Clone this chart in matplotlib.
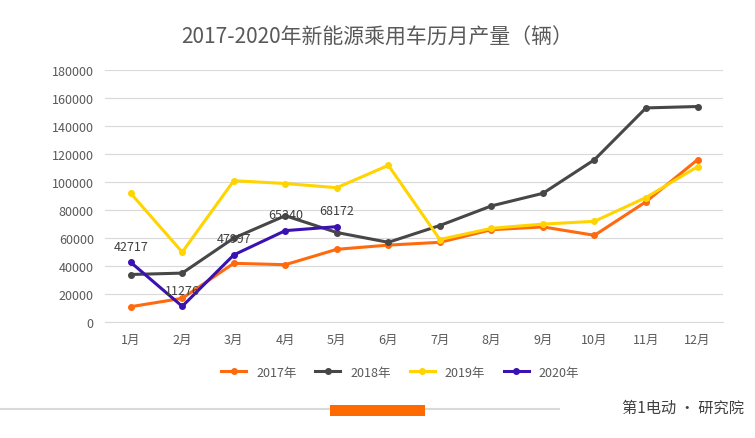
import matplotlib
matplotlib.use("Agg")
import matplotlib.pyplot as plt
from matplotlib.patches import Rectangle
from matplotlib.lines import Line2D

plt.rcParams["font.family"] = ["Noto Sans CJK SC", "DejaVu Sans"]

months = ["1月", "2月", "3月", "4月", "5月", "6月", "7月", "8月", "9月", "10月", "11月", "12月"]
y2017 = [11000, 17000, 42000, 41000, 52000, 55000, 57000, 66000, 68000, 62000, 86000, 116000]
y2018 = [34000, 35000, 60000, 76000, 64000, 57000, 69000, 83000, 92000, 116000, 153000, 154000]
y2019 = [92000, 50000, 101000, 99000, 96000, 112000, 59000, 67000, 70000, 72000, 89000, 111000]
y2020 = [42717, 11276, 47997, 65340, 68172]
yticks = list(range(0, 180001, 20000))

fig = plt.figure(figsize=(7.55, 4.39), dpi=100)
ax = fig.add_axes([0.139, 0.264, 0.819, 0.574])
x = list(range(len(months)))

series = [
    ("2017年", y2017, "#FF6A0F"),
    ("2018年", y2018, "#474747"),
    ("2019年", y2019, "#FFD400"),
    ("2020年", y2020, "#3A12B0"),
]
for name, vals, col in series:
    ax.plot(x[:len(vals)], vals, color=col, lw=2.2, marker="o", ms=4, label=name)

for i, v in enumerate(y2020):
    ax.annotate(str(v), (i, v), xytext=(0, 7), textcoords="offset points",
                ha="center", va="bottom", fontsize=9, color="#404040")

ax.set_xlim(-0.5, 11.5)
ax.set_ylim(0, 180000)
ax.set_yticks(yticks)
ax.set_yticklabels([str(t) for t in yticks], fontsize=9, color="#595959")
ax.set_xticks(x)
ax.set_xticklabels(months, fontsize=9, color="#595959")
ax.grid(axis="y", color="#D9D9D9", lw=0.8)
ax.set_axisbelow(True)
for s in ax.spines.values():
    s.set_visible(False)
ax.spines["bottom"].set_visible(True)
ax.spines["bottom"].set_color("#D9D9D9")
ax.tick_params(length=0, pad=8)

fig.text(0.5, 0.913, "2017-2020年新能源乘用车历月产量（辆）", ha="center", va="center",
         fontsize=15, color="#595959")

handles = [Line2D([0], [0], color=c, lw=2.2, marker="o", ms=4) for _, _, c in series]
fig.legend(handles, [n for n, _, _ in series], loc="center", bbox_to_anchor=(0.53, 0.15),
           ncol=4, frameon=False, fontsize=9, handlelength=2, columnspacing=1.5,
           labelcolor="#595959")

# bottom decoration
fig.add_artist(Line2D([0, 0.74], [0.066, 0.066], color="#D9D9D9", lw=1.5, zorder=1))
fig.add_artist(Rectangle((0.437, 0.05), 0.126, 0.026, facecolor="#FF6A00", lw=0, zorder=2))
fig.text(0.985, 0.07, "第1电动 • 研究院", ha="right", va="center", fontsize=11, color="#404040")

fig.savefig("out.png", dpi=100)
